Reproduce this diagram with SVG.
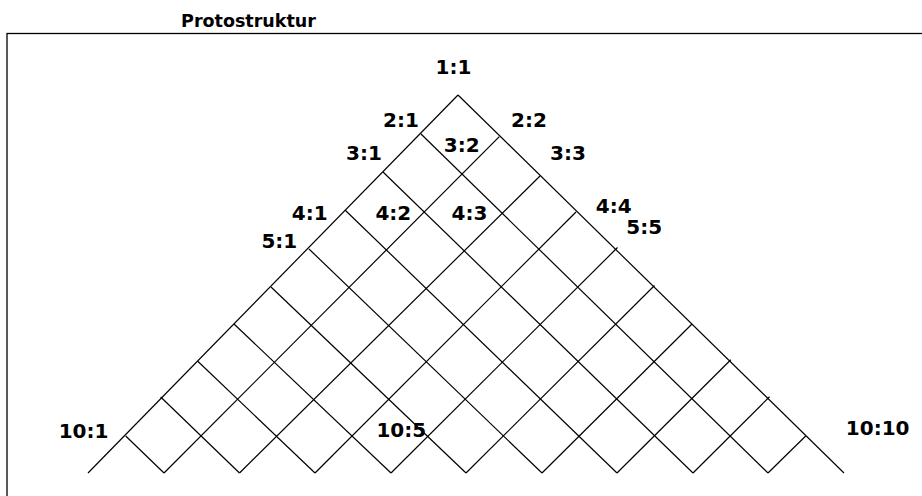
<svg xmlns="http://www.w3.org/2000/svg" width="922" height="496" viewBox="0 0 922 496">
<style>
.bg{fill:#ffffff}
.frame{fill:none;stroke:#000;stroke-width:1.3}
.ln{stroke:#000;stroke-width:1.2;fill:none}
.lbl{font-family:"DejaVu Sans",sans-serif;font-weight:bold;font-size:20px;fill:#000;text-anchor:middle}
.title{font-family:"DejaVu Sans",sans-serif;font-weight:bold;font-size:17.5px;fill:#000;text-anchor:middle}
</style>
<rect class="bg" x="0" y="0" width="922" height="496"/>
<text class="title" x="248.5" y="26.7">Protostruktur</text>
<rect class="frame" x="7" y="33.5" width="940" height="480"/>
<g id="connectors">
<line class="ln" x1="458" y1="95" x2="88" y2="473"/>
<line class="ln" x1="458" y1="95" x2="844" y2="473"/>
<line class="ln" x1="421" y1="134" x2="768" y2="473"/>
<line class="ln" x1="383" y1="172" x2="693" y2="473"/>
<line class="ln" x1="345" y1="210" x2="617" y2="473"/>
<line class="ln" x1="309" y1="249" x2="542" y2="473"/>
<line class="ln" x1="271" y1="287" x2="466" y2="473"/>
<line class="ln" x1="234" y1="324" x2="391" y2="473"/>
<line class="ln" x1="197.5" y1="361" x2="315" y2="473"/>
<line class="ln" x1="160.7" y1="397" x2="239.5" y2="473"/>
<line class="ln" x1="125.7" y1="436" x2="164" y2="473"/>
<line class="ln" x1="499.3" y1="136.7" x2="164" y2="473"/>
<line class="ln" x1="540" y1="176" x2="239.5" y2="473"/>
<line class="ln" x1="576" y1="212" x2="315" y2="473"/>
<line class="ln" x1="617.5" y1="247.5" x2="391" y2="473"/>
<line class="ln" x1="654.5" y1="285.5" x2="466" y2="473"/>
<line class="ln" x1="692" y1="324" x2="542" y2="473"/>
<line class="ln" x1="730.8" y1="359.8" x2="617" y2="473"/>
<line class="ln" x1="769.5" y1="396.8" x2="693" y2="473"/>
<line class="ln" x1="805.7" y1="436" x2="768" y2="473"/>
</g>
<g id="node-1-1"><text class="lbl" x="453.5" y="74.3">1:1</text></g>
<g id="node-2-1"><text class="lbl" x="401" y="127.3">2:1</text></g>
<g id="node-2-2"><text class="lbl" x="529" y="127.3">2:2</text></g>
<g id="node-3-1"><text class="lbl" x="364" y="160">3:1</text></g>
<g id="node-3-2"><text class="lbl" x="461.7" y="151.7">3:2</text></g>
<g id="node-3-3"><text class="lbl" x="568" y="160">3:3</text></g>
<g id="node-4-1"><text class="lbl" x="309.7" y="220">4:1</text></g>
<g id="node-4-2"><text class="lbl" x="393.3" y="220">4:2</text></g>
<g id="node-4-3"><text class="lbl" x="469.5" y="220">4:3</text></g>
<g id="node-4-4"><text class="lbl" x="613.7" y="212.7">4:4</text></g>
<g id="node-5-1"><text class="lbl" x="279.3" y="248.3">5:1</text></g>
<g id="node-5-5"><text class="lbl" x="644.2" y="234.3">5:5</text></g>
<g id="node-10-1"><text class="lbl" x="83.5" y="438.3">10:1</text></g>
<g id="node-10-5"><text class="lbl" x="401.3" y="437.3">10:5</text></g>
<g id="node-10-10"><text class="lbl" x="877.7" y="435">10:10</text></g>
</svg>
